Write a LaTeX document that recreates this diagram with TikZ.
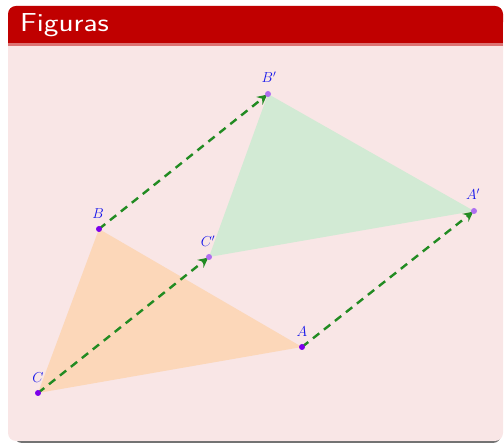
\documentclass[tikz,border=0pt]{standalone}
\usetikzlibrary{arrows.meta}
\definecolor{titlered}{RGB}{192,0,0}
\definecolor{bodypink}{RGB}{249,230,230}
\definecolor{triorange}{RGB}{252,215,185}
\definecolor{trigreen}{RGB}{210,234,212}
\definecolor{arrgreen}{RGB}{34,139,34}
\definecolor{ptdark}{RGB}{125,0,235}
\definecolor{ptlight}{RGB}{175,110,240}
\definecolor{lblblue}{RGB}{20,20,235}
\tikzset{
  ptdot/.style={circle,fill=ptdark,inner sep=0pt,minimum size=6pt},
  ptdotlight/.style={circle,fill=ptlight,inner sep=0pt,minimum size=6pt},
  lbl/.style={text=lblblue,font=\fontsize{14}{16}\selectfont,inner sep=0pt},
  transl/.style={arrgreen,line width=2.4pt,dash pattern=on 8pt off 6pt,-{Stealth[length=10pt,width=10pt,inset=3.5pt]},shorten >=1pt}
}
\begin{document}
\begin{tikzpicture}[x=1pt,y=-1pt]
\useasboundingbox (0,0) rectangle (504,443);
% shadow
\fill[black!55,rounded corners=8pt] (14,30) rectangle (501,443);
% body
\fill[bodypink,rounded corners=8pt] (8,6) rectangle (503,441);
% title band
\fill[titlered,rounded corners=8pt] (8,6) rectangle (503,30);
\fill[titlered] (8,20) rectangle (503,43);
\fill[titlered!50!bodypink] (8,43) rectangle (503,46);
\node[anchor=west,text=white,font=\fontsize{26}{30}\selectfont\sffamily,inner sep=0pt] (title) at (20,25) {\scalebox{1.2}[1]{Figuras}};
% points
\coordinate (C) at (38,393);
\coordinate (B) at (99,229);
\coordinate (A) at (302,347);
\coordinate (Cp) at (209,257);
\coordinate (Bp) at (268,94);
\coordinate (Ap) at (474,211);
\fill[triorange] (A) -- (B) -- (C) -- cycle;
\fill[trigreen] (Ap) -- (Bp) -- (Cp) -- cycle;
\draw[transl] (C) -- (Cp);
\draw[transl] (B) -- (Bp);
\draw[transl] (A) -- (Ap);
\node[ptdot] (nC) at (C) {};
\node[ptdot] (nB) at (B) {};
\node[ptdot] (nA) at (A) {};
\node[ptdotlight] (nCp) at (Cp) {};
\node[ptdotlight] (nBp) at (Bp) {};
\node[ptdotlight] (nAp) at (Ap) {};
\node[lbl] (lC) at (38,378) {$C$};
\node[lbl] (lB) at (98,214) {$B$};
\node[lbl] (lA) at (302,332) {$A$};
\node[lbl] (lCp) at (208,241) {$C'$};
\node[lbl] (lBp) at (269,77) {$B'$};
\node[lbl] (lAp) at (473,194) {$A'$};
\end{tikzpicture}
\end{document}
